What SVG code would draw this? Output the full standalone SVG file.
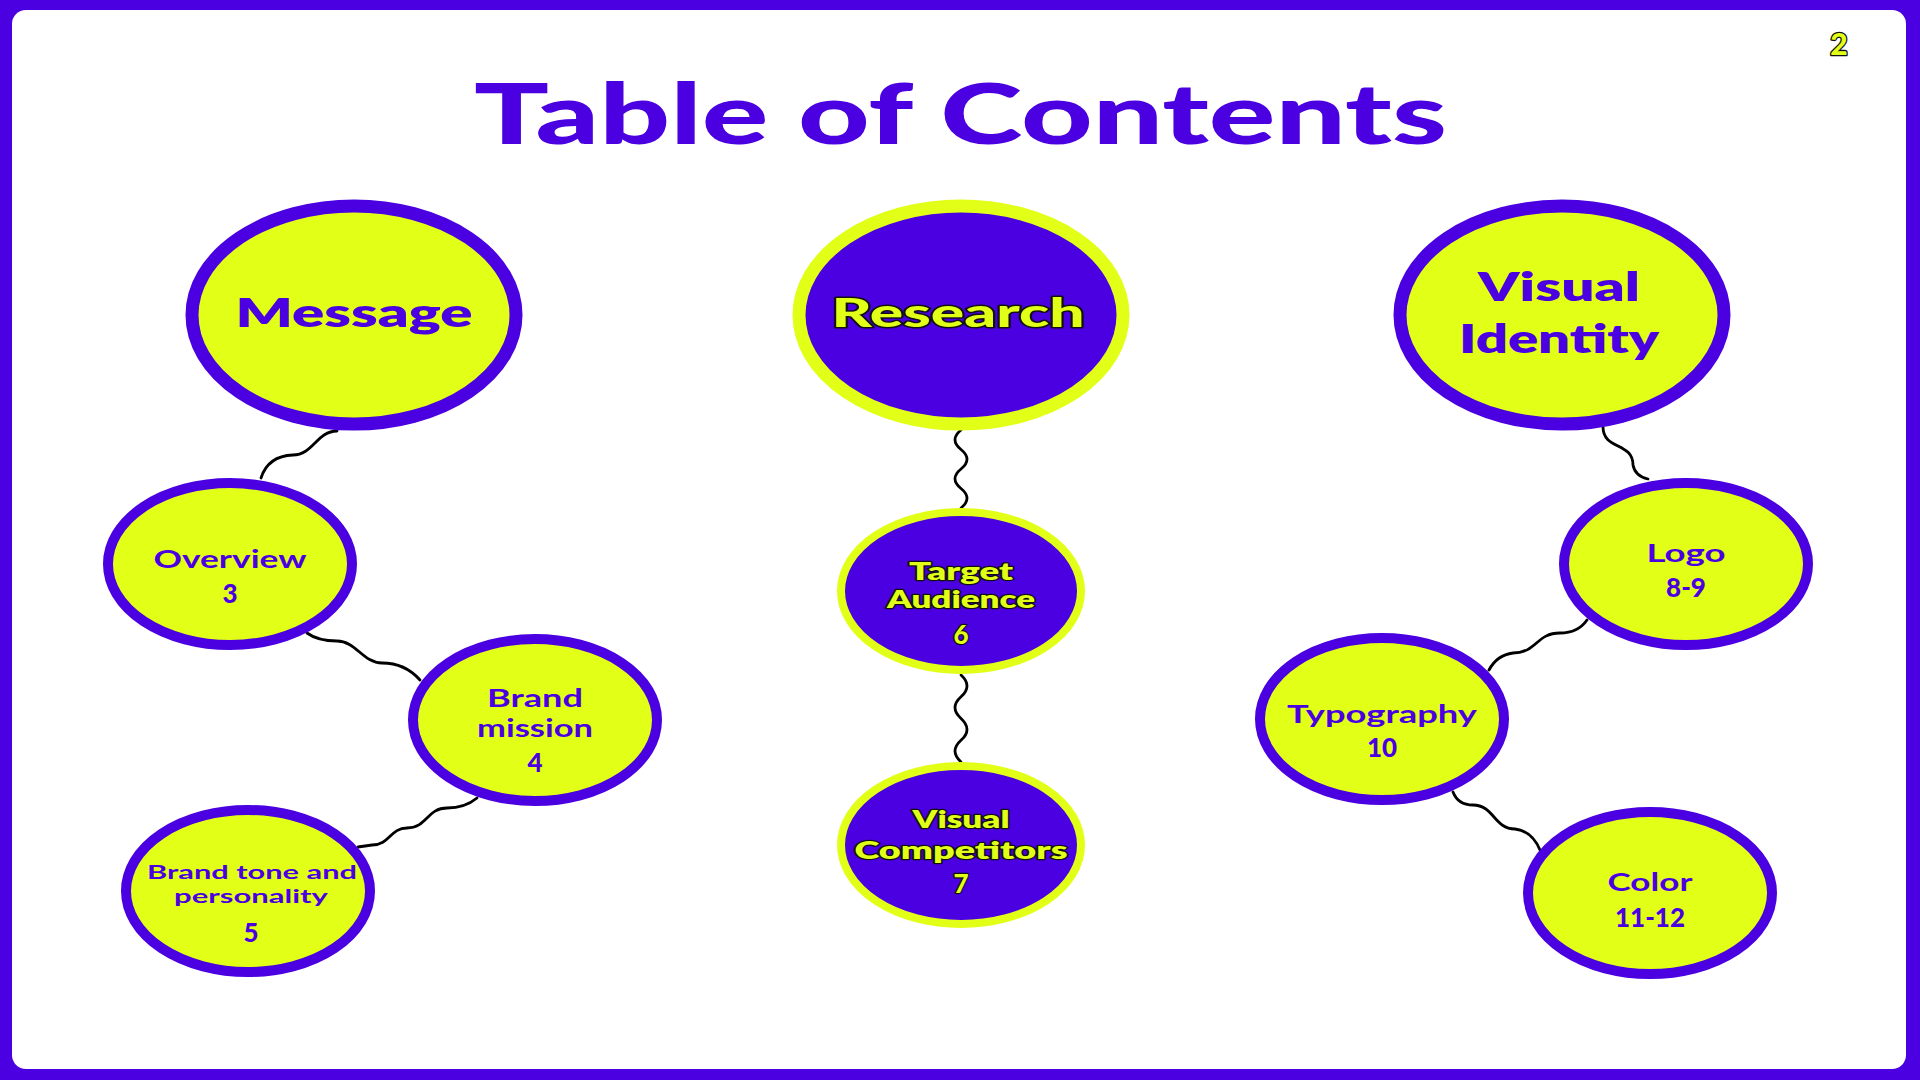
<svg xmlns="http://www.w3.org/2000/svg" width="1920" height="1080" viewBox="0 0 1920 1080">
<style>
.frame{fill:#4a00e0}
.page{fill:#ffffff}
.big{fill:#e2ff17;stroke:#4a00e0;stroke-width:13}
.bigdark{fill:#4a00e0;stroke:#e2ff17;stroke-width:13}
.sm{fill:#e2ff17;stroke:#4a00e0;stroke-width:10}
.smdark{fill:#4a00e0;stroke:#e2ff17;stroke-width:8}
.wire{fill:none;stroke:#000000;stroke-width:2.8;stroke-linecap:round}
text{font-family:Lato,"Open Sans","Liberation Sans",sans-serif;text-anchor:middle}
.title{font-size:84px;font-weight:900;fill:#4a00e0}
.hl{font-size:40px;font-weight:800;fill:#4a00e0}
.hly{font-size:40px;font-weight:900;fill:#e2ff17;stroke:#111111;stroke-width:3;paint-order:stroke;stroke-linejoin:round}
.lb{font-size:24px;font-weight:700;fill:#4a00e0}
.lbs{font-size:19px;font-weight:700;fill:#4a00e0}
.num{font-size:26px;font-weight:900;fill:#4a00e0}
.lby{font-size:24px;font-weight:800;fill:#e2ff17;stroke:#111111;stroke-width:2.4;paint-order:stroke;stroke-linejoin:round}
.numy{font-size:26px;font-weight:900;fill:#e2ff17;stroke:#111111;stroke-width:2.4;paint-order:stroke;stroke-linejoin:round}
.pg{font-size:30px;font-weight:900;fill:#e2ff17;stroke:#111111;stroke-width:2.6;paint-order:stroke;stroke-linejoin:round}
</style>
<rect class="frame" x="0" y="0" width="1920" height="1080"/>
<rect class="page" x="12" y="10" width="1894" height="1059" rx="14"/>
<text class="title" x="960.5" y="144" textLength="973" lengthAdjust="spacingAndGlyphs">Table of Contents</text>
<text class="pg" x="1839" y="55">2</text>
<g id="connectors">
<path class="wire" d="M337,431 C317,431 313,455 293,455 Q268,456 261,478"/>
<path class="wire" d="M307,633 Q318,641 337,641 C356,641 363,663 382,663 Q405,663 420,680"/>
<path class="wire" d="M477,798 Q465,808 447,808 C427,808 427,828 407,828 C390,828 390,845 372,845 L358,847"/>
<path class="wire" d="M961,430 q-12,9.75 0,19.5 t0,19.5 t0,19.5 t0,19.5"/>
<path class="wire" d="M961,675 q12,10.9 0,21.75 t0,21.75 t0,21.75 t0,21.75"/>
<path class="wire" d="M1603,427 C1603,450 1633,442 1633,465 Q1635,476 1648,479"/>
<path class="wire" d="M1587,620 Q1578,633 1560,633 C1536,633 1537,653 1513,653 Q1497,655 1489,670"/>
<path class="wire" d="M1453,792 Q1458,805 1473,805 C1494,805 1494,829 1515,829 Q1532,831 1540,850"/>
</g>
<g id="node-message">
<ellipse class="big" cx="354" cy="315" rx="162" ry="109"/>
<text class="hl" x="354" y="327" textLength="237" lengthAdjust="spacingAndGlyphs">Message</text>
</g>
<g id="node-research">
<ellipse class="bigdark" cx="961" cy="315" rx="162" ry="109"/>
<text class="hly" x="958" y="327" textLength="253" lengthAdjust="spacingAndGlyphs">Research</text>
</g>
<g id="node-visual-identity">
<ellipse class="big" cx="1562" cy="315" rx="162" ry="109"/>
<text class="hl" x="1559" y="301" textLength="162" lengthAdjust="spacingAndGlyphs">Visual</text>
<text class="hl" x="1559" y="353" textLength="200" lengthAdjust="spacingAndGlyphs">Identity</text>
</g>
<g id="node-overview">
<ellipse class="sm" cx="230" cy="564" rx="122" ry="81"/>
<text class="lb" x="230" y="568" textLength="153" lengthAdjust="spacingAndGlyphs">Overview</text>
<text class="num" x="230" y="603">3</text>
</g>
<g id="node-brand-mission">
<ellipse class="sm" cx="535" cy="720" rx="122" ry="81"/>
<text class="lb" x="535" y="707" textLength="96" lengthAdjust="spacingAndGlyphs">Brand</text>
<text class="lb" x="535" y="737" textLength="116" lengthAdjust="spacingAndGlyphs">mission</text>
<text class="num" x="535" y="772">4</text>
</g>
<g id="node-brand-tone">
<ellipse class="sm" cx="248" cy="891" rx="122" ry="81"/>
<text class="lbs" x="252" y="879" textLength="210" lengthAdjust="spacingAndGlyphs">Brand tone and</text>
<text class="lbs" x="251" y="903" textLength="154" lengthAdjust="spacingAndGlyphs">personality</text>
<text class="num" x="251" y="942">5</text>
</g>
<g id="node-target-audience">
<ellipse class="smdark" cx="961" cy="591" rx="120" ry="79"/>
<text class="lby" x="961" y="580" textLength="104" lengthAdjust="spacingAndGlyphs">Target</text>
<text class="lby" x="961" y="608" textLength="148" lengthAdjust="spacingAndGlyphs">Audience</text>
<text class="numy" x="961" y="644">6</text>
</g>
<g id="node-visual-competitors">
<ellipse class="smdark" cx="961" cy="845" rx="120" ry="79"/>
<text class="lby" x="961" y="828" textLength="97" lengthAdjust="spacingAndGlyphs">Visual</text>
<text class="lby" x="961" y="859" textLength="213" lengthAdjust="spacingAndGlyphs">Competitors</text>
<text class="numy" x="961" y="893">7</text>
</g>
<g id="node-logo">
<ellipse class="sm" cx="1686" cy="564" rx="122" ry="81"/>
<text class="lb" x="1686" y="562" textLength="79" lengthAdjust="spacingAndGlyphs">Logo</text>
<text class="num" x="1686" y="597">8-9</text>
</g>
<g id="node-typography">
<ellipse class="sm" cx="1382" cy="719" rx="122" ry="81"/>
<text class="lb" x="1382" y="723" textLength="190" lengthAdjust="spacingAndGlyphs">Typography</text>
<text class="num" x="1382" y="757">10</text>
</g>
<g id="node-color">
<ellipse class="sm" cx="1650" cy="893" rx="122" ry="81"/>
<text class="lb" x="1650" y="891" textLength="85" lengthAdjust="spacingAndGlyphs">Color</text>
<text class="num" x="1650" y="927">11-12</text>
</g>
</svg>
